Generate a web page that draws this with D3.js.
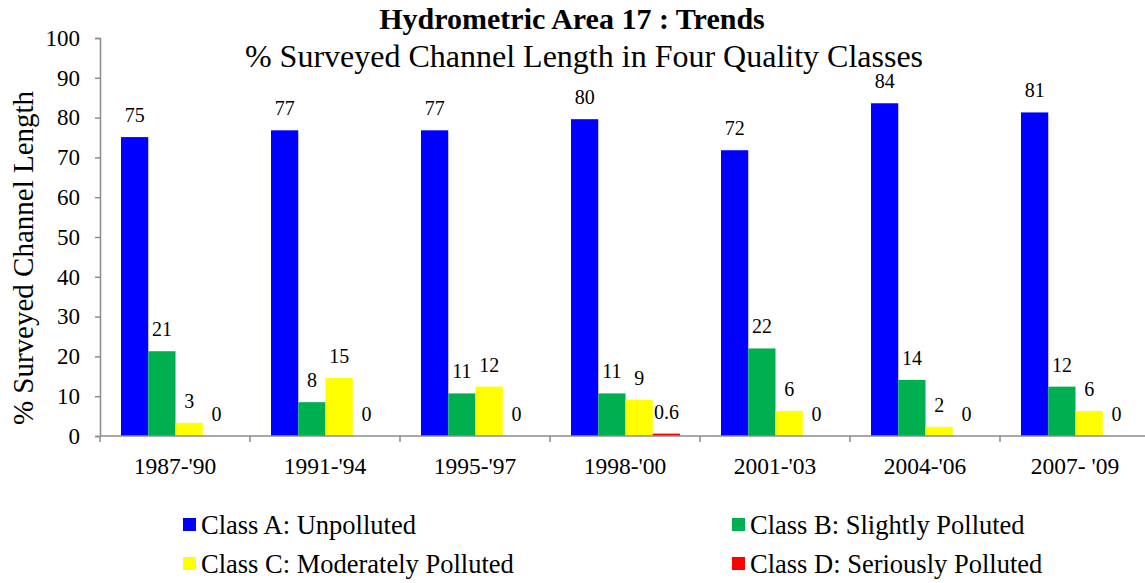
<!DOCTYPE html>
<html>
<head>
<meta charset="utf-8">
<script src="https://cdn.jsdelivr.net/npm/d3@7"></script>
<style>
  body { margin: 0; background: #fff; }
  svg text { font-family: "Liberation Serif", "Times New Roman", serif; fill: #000; }
</style>
</head>
<body>
<div id="chart"></div>
<script>
// data
var periods = ["1987-'90", "1991-'94", "1995-'97", "1998-'00", "2001-'03", "2004-'06", "2007- '09"];
var classes = ["Class A: Unpolluted", "Class B: Slightly Polluted", "Class C: Moderately Polluted", "Class D: Seriously Polluted"];
var colors = ["#0000FF", "#00B050", "#FFFF00", "#FF0000"];
var classA = [75.1, 76.8, 76.8, 79.6, 71.8, 83.6, 81.3];
var classB = [21.3, 8.5, 10.7, 10.7, 22.0, 14.1, 12.4];
var classC = [3.3, 14.6, 12.4, 9.1, 6.3, 2.3, 6.3];
var classD = [0, 0, 0, 0.6, 0, 0, 0];
var labelsA = ["75", "77", "77", "80", "72", "84", "81"];
var labelsB = ["21", "8", "11", "11", "22", "14", "12"];
var labelsC = ["3", "15", "12", "9", "6", "2", "6"];
var labelsD = ["0", "0", "0", "0.6", "0", "0", "0"];
var yTicks = [0, 10, 20, 30, 40, 50, 60, 70, 80, 90, 100];

var series = [classA, classB, classC, classD];
var labels = [labelsA, labelsB, labelsC, labelsD];

var width = 1145, height = 583;
// note: can't call it "top", window.top is read only
var plotLeft = 100, plotRight = 1150, plotTop = 38, plotBottom = 436;

var svg = d3.select("#chart").append("svg")
	.attr("width", width).attr("height", height);

var x = d3.scaleBand().domain(periods).range([plotLeft, plotRight]).paddingInner(0).paddingOuter(0);
var xInner = d3.scaleBand().domain(d3.range(4)).range([21, 150 - 20]);
var y = d3.scaleLinear().domain([0, 100]).range([plotBottom, plotTop]);

// flatten into one list of bars
var bars = [];
for (var s = 0; s < series.length; s++) {
	for (var i = 0; i < periods.length; i++) {
		bars.push({ s: s, period: periods[i], value: series[s][i], label: labels[s][i] });
	}
}

svg.selectAll(".bar")
	.data(bars)
	.enter().append("rect")
	.attr("class", "bar")
	.attr("x", function(d) { return x(d.period) + xInner(d.s); })
	.attr("y", function(d) { return y(d.value); })
	.attr("width", xInner.bandwidth())
	.attr("height", function(d) { return plotBottom - y(d.value); })
	.style("fill", function(d) { return colors[d.s]; });

svg.selectAll(".lbl")
	.data(bars)
	.enter().append("text")
	.attr("class", "lbl")
	.attr("x", function(d) { return x(d.period) + xInner(d.s) + xInner.bandwidth() / 2; })
	.attr("y", function(d) { return y(d.value) - 15; })
	.attr("text-anchor", "middle")
	.style("font-size", "20px")
	.text(function(d) { return d.label; });

// y axis
var yAxis = svg.append("g")
	.attr("transform", "translate(" + plotLeft + ",0)")
	.call(d3.axisLeft(y).tickValues(yTicks).tickSize(5).tickPadding(15));
yAxis.selectAll("text").style("font-size", "23px").style("font-family", "Liberation Serif");
yAxis.selectAll("line, path").attr("stroke", "#8c8c8c").attr("stroke-width", 1.5);

// x axis
var xAxis = svg.append("g")
	.attr("transform", "translate(0," + plotBottom + ")");
xAxis.append("line")
	.attr("x1", plotLeft).attr("x2", plotRight)
	.attr("stroke", "#8c8c8c").attr("stroke-width", 1.5);
xAxis.selectAll(".tk")
	.data(periods)
	.enter().append("line")
	.attr("class", "tk")
	.attr("x1", function(d) { return x(d); }).attr("x2", function(d) { return x(d); })
	.attr("y1", 0).attr("y2", 6)
	.attr("stroke", "#8c8c8c").attr("stroke-width", 1.5);
xAxis.selectAll(".cat")
	.data(periods)
	.enter().append("text")
	.attr("class", "cat")
	.attr("x", function(d) { return x(d) + x.bandwidth() / 2; })
	.attr("y", 38)
	.attr("text-anchor", "middle")
	.style("font-size", "23.5px")
	.text(function(d) { return d; });

// titles
svg.append("text")
	.attr("x", 572).attr("y", 29)
	.attr("text-anchor", "middle")
	.style("font-size", "30px").style("font-weight", "bold")
	.text("Hydrometric Area 17 : Trends");
svg.append("text")
	.attr("x", 584).attr("y", 67)
	.attr("text-anchor", "middle")
	.style("font-size", "32px")
	.text("% Surveyed Channel Length in Four Quality Classes");
svg.append("text")
	.attr("transform", "translate(33,258) rotate(-90)")
	.attr("text-anchor", "middle")
	.style("font-size", "29px")
	.text("% Surveyed Channel Length");

// legend
var legendPos = [[183, 518], [732, 518], [183, 557], [732, 557]];
var legend = svg.selectAll(".leg")
	.data(classes)
	.enter().append("g")
	.attr("class", "leg")
	.attr("transform", function(d, i) { return "translate(" + legendPos[i][0] + "," + legendPos[i][1] + ")"; });
legend.append("rect")
	.attr("width", 13).attr("height", 13)
	.style("fill", function(d, i) { return colors[i]; });
legend.append("text")
	.attr("x", 18).attr("y", 16)
	.style("font-size", "26.5px")
	.text(function(d) { return d; });
</script>
</body>
</html>
